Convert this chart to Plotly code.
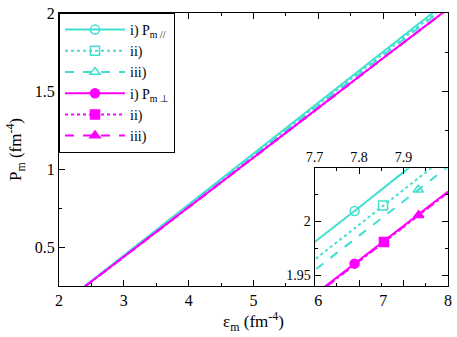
import numpy as np
import plotly.graph_objects as go

# energy density grid (fm^-4)
eps = [2.4, 3.0, 4.0, 5.0, 6.0, 7.0, 7.7, 7.8, 7.9, 8.0]

# parallel pressure, cases i) ii) iii)
p_par_i = [0.250, 0.446, 0.773, 1.100, 1.427, 1.752, 1.981, 2.013, 2.046, 2.079]
p_par_ii = [0.249, 0.443, 0.767, 1.091, 1.415, 1.738, 1.9645, 1.997, 2.030, 2.062]
p_par_iii = [0.249, 0.442, 0.764, 1.086, 1.408, 1.730, 1.9547, 1.987, 2.019, 2.051]

# perpendicular pressure, cases i) ii) iii)
p_perp_i = [0.247, 0.437, 0.755, 1.073, 1.392, 1.712, 1.932, 1.964, 1.996, 2.028]
p_perp_ii = [0.246, 0.436, 0.754, 1.072, 1.391, 1.711, 1.931, 1.963, 1.995, 2.027]
p_perp_iii = [0.246, 0.436, 0.754, 1.072, 1.391, 1.711, 1.931, 1.963, 1.995, 2.027]

# where the symbol sits on each curve in the inset
mark_eps = [7.79, 7.854, 7.933, 7.79, 7.856, 7.934]

names = ['i) P<sub>m //</sub>', 'ii)', 'iii)', 'i) P<sub>m \u22a5</sub>', 'ii)', 'iii)']
series = [p_par_i, p_par_ii, p_par_iii, p_perp_i, p_perp_ii, p_perp_iii]

main_yticks = [0.5, 1, 1.5, 2]
inset_xticks = [7.7, 7.8, 7.9]
inset_yticks = [1.95, 2.0]
inset_ylabels = ['1.95', '2']

CYAN = '#40E0D0'
MAG = '#FF00FF'
colors = [CYAN, CYAN, CYAN, MAG, MAG, MAG]
dashes = ['solid', 'dot', 'dash', 'solid', 'dot', 'dash']
symbols = ['circle-open', 'square-open', 'triangle-up-open', 'circle', 'square', 'triangle-up']

FONT = 'Liberation Serif, Times New Roman, Liberation Sans, Arial, sans-serif'

fig = go.Figure()

# main panel: lines only
for p, c, d in zip(series, colors, dashes):
    fig.add_trace(go.Scatter(
        x=eps, y=p, mode='lines', line=dict(color=c, width=2, dash=d),
        showlegend=False, xaxis='x', yaxis='y', hoverinfo='skip',
    ))

# inset: lines
for p, c, d in zip(series, colors, dashes):
    fig.add_trace(go.Scatter(
        x=eps, y=p, mode='lines', line=dict(color=c, width=2, dash=d),
        showlegend=False, xaxis='x2', yaxis='y2',
    ))

# inset: one symbol per curve (also provides the legend entries)
for name, p, c, d, s, me in zip(names, series, colors, dashes, symbols, mark_eps):
    fig.add_trace(go.Scatter(
        x=[me], y=[float(np.interp(me, eps, p))], mode='lines+markers', name=name,
        line=dict(color=c, width=2, dash=d),
        marker=dict(color=c, symbol=s, size=9, line=dict(color=c, width=1.5)),
        xaxis='x2', yaxis='y2',
    ))

axis_common = dict(
    showline=True, linecolor='black', linewidth=1, mirror='allticks',
    ticks='inside', tickcolor='black', showgrid=False, zeroline=False,
    ticklabeloverflow='allow',
)

fig.update_layout(
    width=457, height=337,
    margin=dict(l=59, r=5, t=7, b=51),
    paper_bgcolor='white', plot_bgcolor='white',
    font=dict(family=FONT, size=16, color='black'),
    xaxis=dict(
        range=[2, 8], domain=[0, 1], dtick=1, ticklen=6,
        minor=dict(ticks='inside', ticklen=3, dtick=0.5, tickcolor='black'),
        title=dict(text='\u03b5<sub>m</sub> (fm<sup>-4</sup>)', standoff=6, font=dict(size=17)),
        **axis_common,
    ),
    yaxis=dict(
        range=[0.25, 2.0005], domain=[0, 1], tickvals=main_yticks, ticklen=6,
        minor=dict(ticks='inside', ticklen=3, dtick=0.25, tickcolor='black'),
        title=dict(text='P<sub>m</sub> (fm<sup>-4</sup>)', standoff=8, font=dict(size=17)),
        **axis_common,
    ),
    xaxis2=dict(
        range=[7.7, 8.0], domain=[0.657, 1], anchor='y2', side='top',
        tickvals=inset_xticks, ticklen=6,
        minor=dict(ticks='inside', ticklen=3, dtick=0.05, tickcolor='black'),
        tickfont=dict(size=14),
        **axis_common,
    ),
    yaxis2=dict(
        range=[1.94, 2.0495], domain=[0, 0.431], anchor='x2',
        tickvals=inset_yticks, ticktext=inset_ylabels, ticklen=6,
        minor=dict(ticks='inside', ticklen=3, dtick=0.025, tickcolor='black'),
        tickfont=dict(size=14),
        **axis_common,
    ),
    legend=dict(
        x=0, y=1, xanchor='left', yanchor='top',
        bgcolor='white', bordercolor='black', borderwidth=1,
        font=dict(family=FONT, size=14), tracegroupgap=0,
        itemwidth=60,
    ),
    showlegend=True,
)

fig.write_html(
    'out.html',
    config={'displayModeBar': False},
    post_script="document.body.style.margin='0px';",
)
